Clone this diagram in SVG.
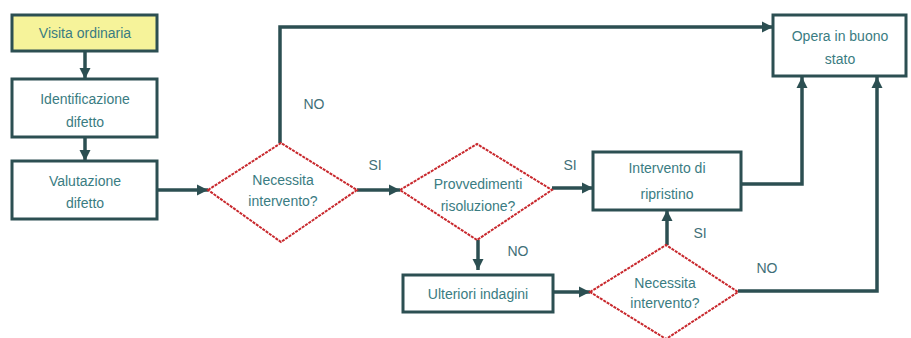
<svg xmlns="http://www.w3.org/2000/svg" width="911" height="338" viewBox="0 0 911 338">
<defs>
<marker id="ah" viewBox="0 0 10 10" refX="10" refY="5" markerWidth="3.2" markerHeight="3.2" orient="auto" markerUnits="strokeWidth">
<path d="M0,0 L10,5 L0,10 z" fill="#2c4f52"/>
</marker>
<style>
.box{fill:#ffffff;stroke:#2c4f52;stroke-width:3}
.start{fill:#f6f39a}
.dia{fill:#ffffff;stroke:#c8282d;stroke-width:2;stroke-dasharray:3 1}
.t{font-family:"Liberation Sans",Arial,sans-serif;font-size:14px;fill:#3a7c82;text-anchor:middle}
.lab{font-family:"Liberation Sans",Arial,sans-serif;font-size:14px;fill:#3f6f78;text-anchor:middle}
.ca{fill:none;stroke:#2c4f52;stroke-width:3.5;marker-end:url(#ah)}
</style>
</defs>
<rect width="911" height="338" fill="#ffffff"/>
<g id="connectors">
<path class="ca" d="M85,52 V79"/>
<path class="ca" d="M85,137 V161"/>
<path class="ca" d="M157,190 H208"/>
<path class="ca" d="M280,143 V27 H773"/>
<path class="ca" d="M357,190 H400"/>
<path class="ca" d="M552,188 H593"/>
<path class="ca" d="M741,184 H802 V77"/>
<path class="ca" d="M478,240 V270"/>
<path class="ca" d="M553,292 H590"/>
<path class="ca" d="M667,245 V210"/>
<path class="ca" d="M738,291 H877 V77"/>
</g>
<g id="visita">
<rect class="box start" x="12" y="15" width="145" height="36"/>
<text class="t" x="85" y="38">Visita ordinaria</text>
</g>
<g id="identificazione">
<rect class="box" x="12" y="79" width="145" height="58"/>
<text class="t" x="85" y="104">Identificazione</text>
<text class="t" x="85" y="127">difetto</text>
</g>
<g id="valutazione">
<rect class="box" x="12" y="161" width="145" height="58"/>
<text class="t" x="85" y="186">Valutazione</text>
<text class="t" x="85" y="208">difetto</text>
</g>
<g id="necessita1">
<polygon class="dia" points="208,190 281,143 357,190 281,242"/>
<text class="t" x="283" y="185">Necessita</text>
<text class="t" x="283" y="206">intervento?</text>
</g>
<g id="provvedimenti">
<polygon class="dia" points="400,190 477,144 552,190 477,240"/>
<text class="t" x="478" y="189">Provvedimenti</text>
<text class="t" x="478" y="211">risoluzione?</text>
</g>
<g id="intervento">
<rect class="box" x="593" y="152" width="148" height="58"/>
<text class="t" x="667" y="173">Intervento di</text>
<text class="t" x="667" y="199">ripristino</text>
</g>
<g id="opera">
<rect class="box" x="773" y="15" width="133" height="61"/>
<text class="t" x="840" y="41">Opera in buono</text>
<text class="t" x="840" y="64">stato</text>
</g>
<g id="ulteriori">
<rect class="box" x="403" y="275" width="150" height="37"/>
<text class="t" x="478" y="299">Ulteriori indagini</text>
</g>
<g id="necessita2">
<polygon class="dia" points="590,292 666,245 738,292 666,339"/>
<text class="t" x="665" y="288">Necessita</text>
<text class="t" x="665" y="308">intervento?</text>
</g>
<g id="labels">
<text class="lab" x="314" y="109">NO</text>
<text class="lab" x="375" y="170">SI</text>
<text class="lab" x="570" y="170">SI</text>
<text class="lab" x="518" y="256">NO</text>
<text class="lab" x="700" y="238">SI</text>
<text class="lab" x="767" y="273">NO</text>
</g>
</svg>
